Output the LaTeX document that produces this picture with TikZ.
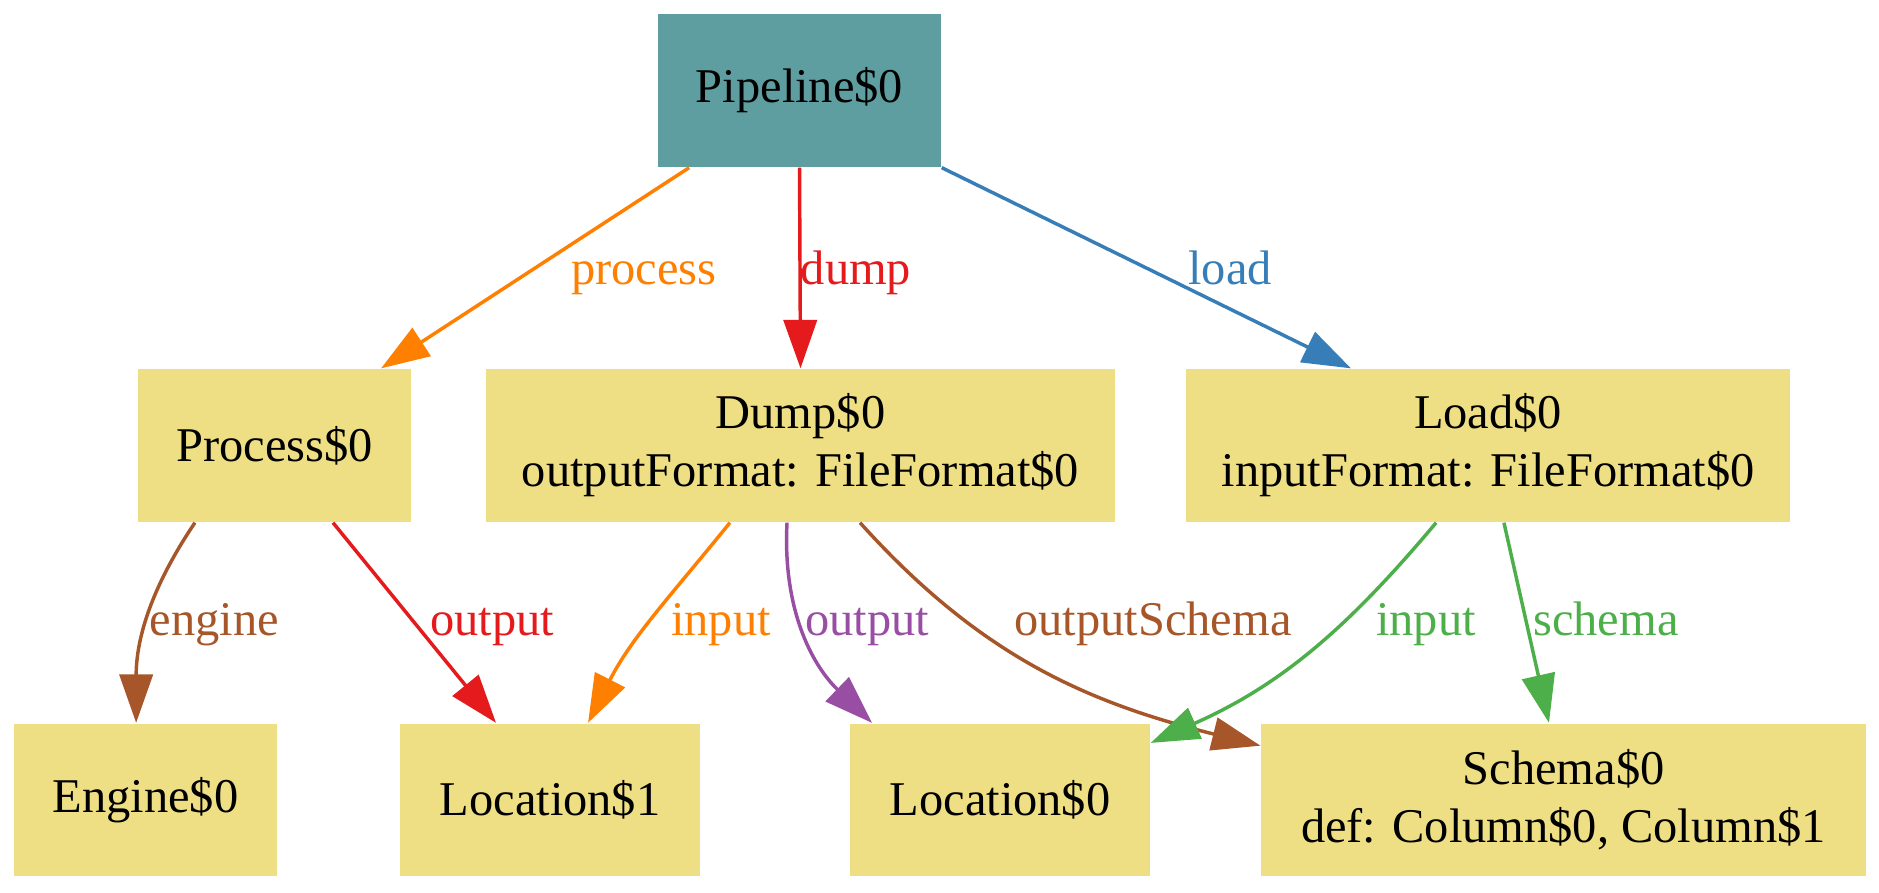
\documentclass[tikz,border=0pt]{standalone}
\usepackage{fontspec}
\setmainfont{Liberation Serif}
\usetikzlibrary{arrows.meta}

\definecolor{cadet}{HTML}{5F9EA0}
\definecolor{khaki}{HTML}{EEDF85}
\definecolor{setred}{HTML}{E41A1C}
\definecolor{setblue}{HTML}{377EB8}
\definecolor{setgreen}{HTML}{4DAF4A}
\definecolor{setpurple}{HTML}{984EA3}
\definecolor{setorange}{HTML}{FF7F00}
\definecolor{setbrown}{HTML}{A65628}

\tikzset{
  obj/.style={fill=khaki,minimum height=44.2pt,inner sep=0pt,align=center,
    font=\fontsize{14}{16.8}\selectfont},
  rel/.style={line width=1pt,-{Triangle[length=14pt,width=9.6pt]}},
  lbl/.style={anchor=base,inner sep=0pt,font=\fontsize{14}{16.8}\selectfont},
}

\begin{document}
\begin{tikzpicture}[x=0.289pt,y=0.289pt]
  \useasboundingbox (0,0) rectangle (1879,892);

  % Pipeline
  \node[obj,fill=cadet,minimum width=81.8pt] (pipeline) at (799.5,801.5) {Pipeline\$0};

  % Steps
  \node[obj,minimum width=78.9pt] (process) at (274.5,446.5) {Process\$0};
  \node[obj,minimum width=181.8pt] (dump) at (800.5,446.5) {Dump\$0\\outputFormat: FileFormat\$0};
  \node[obj,minimum width=174.6pt] (load) at (1488,446.5) {Load\$0\\inputFormat: FileFormat\$0};

  % Leaves
  \node[obj,minimum width=76pt] (engine) at (145.5,92) {Engine\$0};
  \node[obj,minimum width=86.7pt] (loc1) at (550,92) {Location\$1};
  \node[obj,minimum width=86.7pt] (loc0) at (1000,92) {Location\$0};
  \node[obj,minimum width=174.8pt] (schema) at (1563.5,92) {Schema\$0\\def: Column\$0, Column\$1};

  % Pipeline edges
  \draw[rel,setorange] ([xshift=-31.9pt]pipeline.south) -- ([xshift=30.8pt]process.north);
  \draw[rel,setred] (pipeline.south) -- (dump.north);
  \draw[rel,setblue] (pipeline.south east) -- ([xshift=-39.6pt]load.north);
  \node[lbl,setorange] (lprocess) at (644,608) {process};
  \node[lbl,setred] (ldump) at (856,608) {dump};
  \node[lbl,setblue] (lload) at (1230,608) {load};

  % Step edges
  \draw[rel,setbrown] ([xshift=-23pt]process.south) to[out=-124,in=90] ([xshift=-2.7pt]engine.north);
  \draw[rel,setred] ([xshift=16.9pt]process.south) -- ([xshift=-15.6pt]loc1.north);
  \draw[rel,setorange] ([xshift=-20.4pt]dump.south) to[out=-129,in=63] ([xshift=11pt]loc1.north);
  \draw[rel,setpurple] ([xshift=-3.9pt]dump.south) to[out=-93,in=136] ([xshift=-37pt]loc0.north);
  \draw[rel,setbrown] ([xshift=17.2pt]dump.south) to[out=-48,in=166] ([yshift=-6.6pt]schema.north west);
  \draw[rel,setgreen] ([xshift=-15pt]load.south) to[out=-130,in=24] ([yshift=-5.8pt]loc0.north east);
  \draw[rel,setgreen] ([xshift=4.6pt]load.south) -- ([xshift=-4.2pt]schema.north);
  \node[lbl,setbrown] (lengine) at (214.5,257) {engine};
  \node[lbl,setred] (loutput) at (492,257) {output};
  \node[lbl,setorange] (linput) at (721,257) {input};
  \node[lbl,setpurple] (loutputb) at (867,257) {output};
  \node[lbl,setbrown] (loutschema) at (1153,257) {outputSchema};
  \node[lbl,setgreen] (linputb) at (1426,257) {input};
  \node[lbl,setgreen] (lschema) at (1606,257) {schema};
\end{tikzpicture}
\end{document}
